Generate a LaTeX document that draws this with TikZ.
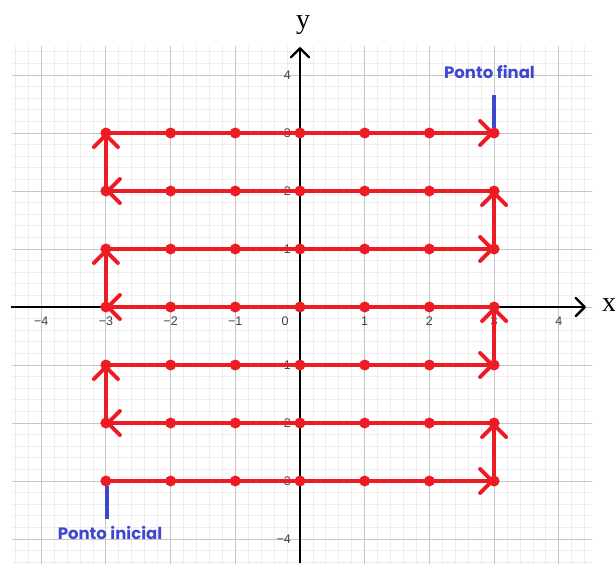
\documentclass[tikz,border=0pt]{standalone}
\usepackage{fontspec}
\setmainfont{Liberation Sans}
\newfontfamily\axserif{Liberation Serif}
\newfontfamily\popfont{Poppins}
\usetikzlibrary{arrows.meta}
\definecolor{pathred}{HTML}{ED1C24}
\definecolor{lblue}{HTML}{3F48CC}
\definecolor{minorg}{HTML}{EDEDED}
\definecolor{majorg}{HTML}{C6C6C6}
\definecolor{ticktxt}{HTML}{404040}
\begin{document}
\begin{tikzpicture}[x=64.7pt,y=58pt,
  minorline/.style={draw=minorg,line width=0.8pt},
  majorline/.style={draw=majorg,line width=1pt},
  axisline/.style={draw=black,line width=1.1pt,-{Straight Barb[length=9pt,width=18pt,line width=2.4pt,round]}},
  ticklbl/.style={font=\fontsize{12.5}{14}\selectfont,text=ticktxt,inner sep=0pt},
  axlbl/.style={font=\axserif\fontsize{28}{30}\selectfont,inner sep=0pt},
  redseg/.style={draw=pathred,line width=4pt,line cap=round,-{Straight Barb[length=12pt,width=24pt,line width=4pt,round]}},
  reddot/.style={fill=pathred},
  bluebar/.style={draw=lblue,line width=4pt},
  bluelbl/.style={text=lblue,font=\popfont\bfseries\fontsize{16.5}{18}\selectfont,inner sep=0pt}
]
\useasboundingbox (-300pt,-256pt) rectangle (315pt,307pt);
% grid
\begin{scope}
\clip (-288pt,-256pt) rectangle (292pt,260pt);
\foreach \i in {-22,...,22} {
  \draw[minorline] ({\i/5},-4.6) -- ({\i/5},4.6);
  \draw[minorline] (-4.6,{\i/5}) -- (4.6,{\i/5});
}
\foreach \i in {-4,...,4} {
  \draw[majorline] (\i,-4.6) -- (\i,4.6);
  \draw[majorline] (-4.6,\i) -- (4.6,\i);
}
\end{scope}
% axes
\coordinate (xs) at (-289pt,0);
\coordinate (xe) at (286pt,0);
\coordinate (ys) at (0,-256pt);
\coordinate (ye) at (0,260pt);
\draw[axisline] (xs) -- (xe);
\draw[axisline] (ys) -- (ye);
\node[axlbl] (ylbl) at (3pt,282pt) {y};
\node[axlbl] (xlbl) at (309pt,2pt) {x};
% tick labels
\foreach \v/\t/\n in {-4/−4/a,-3/−3/b,-2/−2/c,-1/−1/d,1/1/e,2/2/f,3/3/g,4/4/h}
  \node[ticklbl] (xt\n) at ([yshift=-14pt]\v,0) {\t};
\node[ticklbl] (xt0) at (-15pt,-14pt) {0};
\foreach \v/\t/\n in {-4/−4/a,-3/−3/b,-2/−2/c,-1/−1/d,1/1/e,2/2/f,3/3/g,4/4/h}
  \node[ticklbl,anchor=east] (yt\n) at ([xshift=-9pt]0,\v) {\t};
% path points
\foreach \i in {0,...,6}
  \foreach \r in {0,...,6}
    \coordinate (p\i\r) at ({\i-3},{\r-3});
\foreach \r in {0,2,4,6} \draw[redseg] (p0\r) -- (p6\r);
\foreach \r in {1,3,5} \draw[redseg] (p6\r) -- (p0\r);
\foreach \r/\s in {0/1,2/3,4/5} \draw[redseg] (p6\r) -- (p6\s);
\foreach \r/\s in {1/2,3/4,5/6} \draw[redseg] (p0\r) -- (p0\s);
\foreach \i in {0,...,6}
  \foreach \r in {0,...,6}
    \fill[reddot] (p\i\r) circle (5.5pt);
% labels
\node[bluelbl] (final) at (189.5pt,235pt) {Ponto final};
\coordinate (fbt) at (194pt,212pt);
\coordinate (fbb) at (194pt,179pt);
\draw[bluebar] (fbt) -- (fbb);
\node[bluelbl] (inicial) at (-190pt,-226pt) {Ponto inicial};
\coordinate (ibt) at (-193pt,-179pt);
\coordinate (ibb) at (-193pt,-212pt);
\draw[bluebar] (ibt) -- (ibb);
\end{tikzpicture}
\end{document}
